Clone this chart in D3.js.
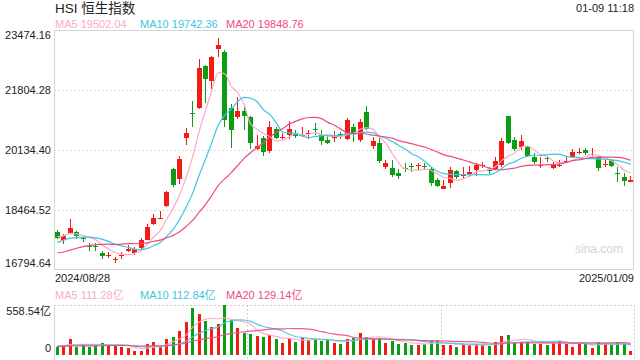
<!DOCTYPE html>
<html><head><meta charset="utf-8">
<script src="https://cdn.jsdelivr.net/npm/d3@7"></script>
<style>
body{margin:0;background:#fff;}
svg{display:block;font-family:Arial,"Liberation Sans","Noto Sans CJK SC",sans-serif;}
</style>
</head><body><svg id="c" width="640" height="360"></svg>
<script>
// ---------- data ----------
const title = "HSI 恒生指数";
const timeLabel = "01-09 11:18";
const dateLabels = ["2024/08/28", "2025/01/09"];
const priceTicks = [23474.16, 21804.28, 20134.40, 18464.52, 16794.64];
const volumeTicks = [558.54, 0];
const maPeriods = [5, 10, 20];
const maLabelValues = [19502.04, 19742.36, 19848.76];
const volMaLabelValues = [111.28, 112.84, 129.14];

const opens = [
17862,17630,17815,17843,17676,17463,17463,17277,17194,17073,
17184,17314,17277,17407,17630,18075,18233,18585,19596,19309,
20450,21173,21303,22472,22046,22945,22853,21294,21062,21220,
21062,20153,20468,20107,20709,20459,20552,20598,20543,20580,
20728,20552,20413,20459,20589,20431,20784,20394,21183,20246,
20320,19661,19633,19504,19624,19698,19670,19689,19596,19299,
19068,19207,19550,19392,19457,19596,19698,19587,19596,19726,
21081,20413,20227,20227,19949,19680,19912,19624,19698,19819,
19930,20060,20134,20005,19949,19736,19856,19494,19392,19244];
const closes = [
17704,17741,17954,17722,17639,17425,17435,17184,17222,17101,
17222,17370,17379,17630,17982,18242,18251,18965,19142,19875,
20598,21136,22417,22120,22723,23057,20969,20673,21220,21081,
20339,20246,20079,20784,20468,20487,20709,20505,20561,20598,
20709,20394,20339,20524,20570,20969,20598,20904,20719,20385,
19828,19772,19448,19420,19587,19670,19707,19652,19207,19142,
19142,19578,19374,19429,19522,19726,19717,19568,19819,20394,
20320,20172,20385,19977,19810,19707,19893,19745,19717,19837,
20079,20079,20060,20023,19643,19754,19698,19476,19281,19299];
const highs = [
17908,17797,18205,17871,17722,17537,17537,17333,17287,17147,
17287,17481,17444,17676,18075,18353,18427,19003,19624,19967,
20747,21498,22667,22509,22750,23242,22918,21415,21619,21359,
21081,20552,20533,20951,20784,20598,20942,20691,20784,20691,
20877,20691,20552,20663,20645,21016,20849,20988,21359,20505,
20505,19856,19856,19596,19763,19782,19763,19763,19670,19346,
19299,19670,19578,19670,19689,19782,19810,19670,19949,20459,
21081,20505,20552,20246,20042,19949,19967,19810,19856,19967,
20172,20181,20181,20181,19967,19856,19884,19670,19485,19411];
const lows = [
17666,17518,17797,17667,17583,17333,17333,17091,17129,16980,
17110,17287,17203,17379,17620,18038,18214,18539,19095,19188,
20283,20784,21285,21452,21832,22732,20765,20190,20988,20691,
20153,20134,19967,20060,20431,20413,20441,20459,20505,20431,
20552,20273,20301,20366,20441,20413,20366,20366,20691,20153,
19763,19615,19392,19337,19522,19522,19578,19578,19133,19114,
19058,19068,19337,19318,19392,19411,19624,19457,19578,19670,
20301,20116,20134,19949,19745,19643,19810,19596,19652,19763,
19921,20023,19995,19967,19559,19652,19652,19253,19133,19234];
const volumes = [
85.6,108,178.7,93,123,93,100.5,134,111.7,100.5,
93,78,44.7,44.7,123,149,93,178.7,204.8,268,
368.6,525,458,379.8,316.5,346.3,558.54,391,301.6,249.5,
234.6,212.2,197.4,219.7,178.7,134,193.6,149,190,163.8,
175,160,167.6,137.8,122.9,178.7,193.6,249.5,204.8,178.7,
193.6,137.8,160.1,126.6,137.8,111.7,111.7,122.9,160.1,160.1,
111.7,111.7,89.4,119.2,111.7,122.9,111.7,100.5,148.9,212.2,
223.4,137.8,148.9,148.9,126.6,126.6,111.7,148.9,156.4,125,
89.4,136,126.6,78.2,142,128.5,111.7,141,126.6,48.4];
// sessions before the visible window (estimated, only feed the moving averages)
const priorCloses = [17304,16946,16699,16647,16877,16891,17090,17111,17175,17113,
17109,17430,17569,17511,17391,17641,17612,17798,17874];
const priorVolumes = [90,85,100,95,110,88,92,80,96,90,85,98,102,94,100,110,105,98,115];

// ---------- style ----------
const UP = "#f21c14", DOWN = "#0b9e14";
const maColors = ["#fca9c8", "#3ec6e0", "#ee4b82"];
const TEXT = "#222";
const L = 54, R = 634, T = 30, B = 270, VT = 305, VB = 355;

const svg = d3.select("#c");
const n = closes.length;

const x = d3.scaleBand().domain(d3.range(n)).range([L, R]);
const cx = i => Math.floor(x(i) + x.bandwidth() / 2) + 0.5;
const y = d3.scaleLinear().domain([priceTicks[4], priceTicks[0]]).range([B, T]);
const vy = d3.scaleLinear().domain([0, volumeTicks[0]]).range([VB, VT]);

function movingAvg(prior, arr, p) {
  const all = prior.concat(arr), off = prior.length;
  return arr.map((_, i) => d3.mean(all.slice(off + i - p + 1, off + i + 1)));
}

// header
svg.append("text").attr("x", 55).attr("y", 13).attr("font-size", 13.5).attr("fill", TEXT).text(title);
svg.append("text").attr("x", 634).attr("y", 12).attr("font-size", 11).attr("text-anchor", "end").attr("fill", TEXT).text(timeLabel);
const maX = [55, 140, 226];
maPeriods.forEach((p, k) => {
  svg.append("text").attr("x", maX[k]).attr("y", 28).attr("font-size", 11).attr("fill", maColors[k])
    .text("MA" + p + " " + maLabelValues[k].toFixed(2));
  svg.append("text").attr("x", maX[k]).attr("y", 299).attr("font-size", 11).attr("fill", maColors[k])
    .text("MA" + p + " " + volMaLabelValues[k].toFixed(2) + "亿");
});

// main frame + grid
const grid = svg.append("g").attr("shape-rendering", "crispEdges");
grid.selectAll("line.h").data(priceTicks.slice(1, 4)).join("line")
  .attr("x1", L).attr("x2", R).attr("y1", d => Math.round(y(d)) + 0.5).attr("y2", d => Math.round(y(d)) + 0.5)
  .attr("stroke", "#dcdcdc").attr("stroke-dasharray", "2,2");
svg.append("rect").attr("x", L + 0.5).attr("y", T + 0.5).attr("width", R - L - 1).attr("height", B - T - 1)
  .attr("fill", "none").attr("stroke", "#d4d4d4").attr("shape-rendering", "crispEdges");

// y labels
svg.selectAll("text.py").data(priceTicks).join("text").attr("class", "py")
  .attr("x", 51).attr("text-anchor", "end").attr("font-size", 11).attr("fill", TEXT)
  .attr("y", (d, i) => (i === 0 ? y(d) + 9 : i === 4 ? y(d) - 3 : y(d) + 4))
  .text(d => d.toFixed(2));

// watermark
svg.append("text").attr("x", 623).attr("y", 253).attr("text-anchor", "end").attr("font-size", 12)
  .attr("fill", "#d2d2d2").text("sina.com");

// candles
const cg = svg.append("g").attr("shape-rendering", "crispEdges");
const cd = d3.range(n).map(i => ({i, o: opens[i], c: closes[i], h: highs[i], l: lows[i], up: closes[i] >= opens[i]}));
cg.selectAll("line.w").data(cd).join("line")
  .attr("x1", d => cx(d.i)).attr("x2", d => cx(d.i))
  .attr("y1", d => y(d.h)).attr("y2", d => y(d.l))
  .attr("stroke", d => d.up ? UP : DOWN);
cg.selectAll("rect.b").data(cd).join("rect")
  .attr("x", d => cx(d.i) - 2.5).attr("width", 5)
  .attr("y", d => Math.round(y(Math.max(d.o, d.c))))
  .attr("height", d => Math.max(1, Math.round(Math.abs(y(d.o) - y(d.c)))))
  .attr("fill", d => d.up ? UP : DOWN);

// MA lines
const line = d3.line().x((d, i) => x(i) + x.bandwidth() / 2).curve(d3.curveMonotoneX);
maPeriods.forEach((p, k) => {
  const ma = movingAvg(priorCloses, closes, p);
  svg.append("path").attr("d", line.y(d => y(d))(ma)).attr("fill", "none")
    .attr("stroke", maColors[k]).attr("stroke-width", 1.2);
});

// date labels
svg.append("text").attr("x", 55).attr("y", 282).attr("font-size", 11).attr("fill", TEXT).text(dateLabels[0]);
svg.append("text").attr("x", 634).attr("y", 282).attr("font-size", 11).attr("text-anchor", "end").attr("fill", TEXT).text(dateLabels[1]);

// volume frame
const vg = svg.append("g").attr("shape-rendering", "crispEdges");
vg.append("line").attr("x1", L).attr("x2", R).attr("y1", VT + 0.5).attr("y2", VT + 0.5)
  .attr("stroke", "#cfcfcf").attr("stroke-dasharray", "2,2");
[L + (R - L) / 3, L + 2 * (R - L) / 3, R - 0.5].forEach(xx => {
  vg.append("line").attr("x1", Math.round(xx) + 0.5).attr("x2", Math.round(xx) + 0.5).attr("y1", VT).attr("y2", VB + 5)
    .attr("stroke", "#cfcfcf").attr("stroke-dasharray", "2,2");
});
vg.append("line").attr("x1", L + 0.5).attr("x2", L + 0.5).attr("y1", VT).attr("y2", 360).attr("stroke", "#d4d4d4");

svg.append("text").attr("x", 51).attr("y", VT + 10).attr("text-anchor", "end").attr("font-size", 11).attr("fill", TEXT)
  .text(volumeTicks[0].toFixed(2) + "亿");
svg.append("text").attr("x", 51).attr("y", VB - 3).attr("text-anchor", "end").attr("font-size", 11).attr("fill", TEXT)
  .text(String(volumeTicks[1]));

vg.selectAll("rect.v").data(cd).join("rect")
  .attr("x", d => cx(d.i) - 1.5).attr("width", 3)
  .attr("y", d => Math.round(vy(volumes[d.i])))
  .attr("height", d => VB - Math.round(vy(volumes[d.i])))
  .attr("fill", d => d.up ? UP : DOWN);

maPeriods.forEach((p, k) => {
  const ma = movingAvg(priorVolumes, volumes, p);
  svg.append("path").attr("d", line.y(d => vy(d))(ma)).attr("fill", "none")
    .attr("stroke", maColors[k]).attr("stroke-width", 1.2).attr("opacity", 0.9);
});
</script>
</body></html>
